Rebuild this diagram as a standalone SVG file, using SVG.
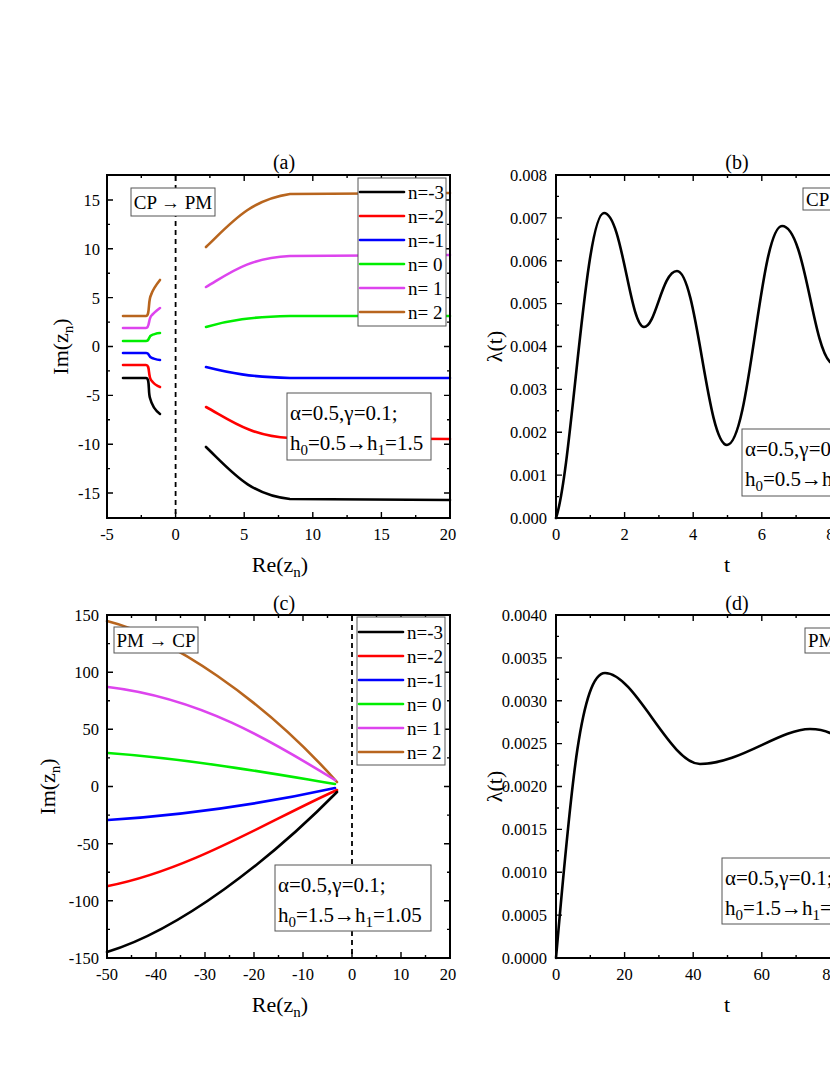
<svg xmlns="http://www.w3.org/2000/svg" width="830" height="1075" viewBox="0 0 830 1075">
<style>
text{font-family:"Liberation Serif","Times New Roman",serif;fill:#000}
.t{font-size:16.5px}
.yl{text-anchor:end}
.xl{text-anchor:middle}
.ttl{font-size:20px;text-anchor:middle}
.ax{font-size:22px;text-anchor:middle}
.fr{fill:none;stroke:#000;stroke-width:2}
.tk{fill:none;stroke:#000;stroke-width:1.4}
.c{fill:none;stroke-width:2.6;stroke-linecap:round}
.box{fill:#fff;stroke:#555;stroke-width:1}
.lg{font-size:19px}
.pb{font-size:21px}
.dash{stroke:#000;stroke-width:1.8;stroke-dasharray:5,4}
</style>
<rect width="830" height="1075" fill="#fff"/>

<g id="panel-a">
<text class="ttl" x="284" y="169">(a)</text>
<line class="dash" x1="175.6" y1="176" x2="175.6" y2="517"/>
<g id="curves-a">
<path class="c" style="stroke:#b8651e" d="M123,316 H146 C150,316 148,300 151,295 C153,289 156,285 160,280"/>
<path class="c" style="stroke:#dd44ee" d="M123,328 H146 C150,328 148,318 152,315 C155,312 157,310 160,308"/>
<path class="c" style="stroke:#00ee00" d="M123,341 H146 C150,341 148,336 152,335 C155,334 157,333 160,333"/>
<path class="c" style="stroke:#0000ff" d="M123,353 H146 C150,353 148,357 152,358 C155,359 157,360 160,360"/>
<path class="c" style="stroke:#ff0000" d="M123,365 H146 C150,365 148,375 151,380 C154,384 157,386 160,387"/>
<path class="c" style="stroke:#000" d="M123,378 H146 C150,378 148,392 150,398 C152,406 156,411 160,414"/>
<path class="c" style="stroke:#b8651e" d="M206,247 C232,222 250,200 290,194 L450,193"/>
<path class="c" style="stroke:#dd44ee" d="M206,287 C230,273 248,258 290,256 L450,255"/>
<path class="c" style="stroke:#00ee00" d="M206,327 C230,320 250,317 290,316 L450,316"/>
<path class="c" style="stroke:#0000ff" d="M206,367 C230,373 250,377 290,378 L450,378"/>
<path class="c" style="stroke:#ff0000" d="M206,407 C230,420 250,436 290,438 L450,439"/>
<path class="c" style="stroke:#000" d="M206,447 C232,472 250,495 290,499 L450,500"/>
</g>
<rect class="fr" x="107" y="175" width="343" height="343"/>
<path class="tk" d="M107,518v-6M175.6,518v-6M244.2,518v-6M312.8,518v-6M381.4,518v-6M141.3,518v-3M209.9,518v-3M278.5,518v-3M347.1,518v-3M415.7,518v-3
M107,175v6M175.6,175v6M244.2,175v6M312.8,175v6M381.4,175v6M141.3,175v3M209.9,175v3M278.5,175v3M347.1,175v3M415.7,175v3
M107,200h6M107,248.8h6M107,297.6h6M107,346.5h6M107,395.4h6M107,444.2h6M107,493h6M107,224.4h3M107,273.2h3M107,322.1h3M107,370.9h3M107,419.8h3M107,468.6h3
M450,200h-6M450,248.8h-6M450,297.6h-6M450,346.5h-6M450,395.4h-6M450,444.2h-6M450,493h-6M450,224.4h-3M450,273.2h-3M450,322.1h-3M450,370.9h-3M450,419.8h-3M450,468.6h-3"/>
<g class="t">
<text class="yl" x="100" y="206">15</text><text class="yl" x="100" y="255">10</text><text class="yl" x="100" y="304">5</text><text class="yl" x="100" y="352">0</text><text class="yl" x="100" y="401">-5</text><text class="yl" x="100" y="450">-10</text><text class="yl" x="100" y="499">-15</text>
<text class="xl" x="107" y="540">-5</text><text class="xl" x="175.6" y="540">0</text><text class="xl" x="244.2" y="540">5</text><text class="xl" x="312.8" y="540">10</text><text class="xl" x="381.4" y="540">15</text><text class="xl" x="448" y="540">20</text>
</g>
<text class="ax" x="280" y="572">Re(z<tspan font-size="15" dy="5">n</tspan><tspan dy="-5">)</tspan></text>
<text class="ax" transform="translate(68,346.5) rotate(-90)">Im(z<tspan font-size="15" dy="5">n</tspan><tspan dy="-5">)</tspan></text>
<g id="label-cp-pm"><rect class="box" x="131" y="188" width="84" height="28"/><text class="lg" x="173" y="209" text-anchor="middle">CP → PM</text></g>
<g id="legend-a">
<rect class="box" x="358" y="178" width="88" height="148"/>
<line class="c" style="stroke:#000" x1="360" y1="192" x2="404" y2="192"/><text class="lg" x="408" y="199">n=-3</text>
<line class="c" style="stroke:#ff0000" x1="360" y1="216" x2="404" y2="216"/><text class="lg" x="408" y="223">n=-2</text>
<line class="c" style="stroke:#0000ff" x1="360" y1="240" x2="404" y2="240"/><text class="lg" x="408" y="247">n=-1</text>
<line class="c" style="stroke:#00ee00" x1="360" y1="264" x2="404" y2="264"/><text class="lg" x="408" y="271">n= 0</text>
<line class="c" style="stroke:#dd44ee" x1="360" y1="288" x2="404" y2="288"/><text class="lg" x="408" y="295">n= 1</text>
<line class="c" style="stroke:#b8651e" x1="360" y1="312" x2="404" y2="312"/><text class="lg" x="408" y="319">n= 2</text>
</g>
<g id="params-a"><rect class="box" x="287" y="393" width="144" height="67"/>
<text class="pb" x="290" y="420">α=0.5,γ=0.1;</text>
<text class="pb" x="290" y="450">h<tspan font-size="15" dy="5">0</tspan><tspan dy="-5">=0.5→h</tspan><tspan font-size="15" dy="5">1</tspan><tspan dy="-5">=1.5</tspan></text></g>
</g>

<g id="panel-b">
<text class="ttl" x="737" y="169">(b)</text>
<path class="c" style="stroke:#000" d="M556,518 C572,470 585,213 604,213 C622,213 630,327 644,327 C656,327 662,271 677,271 C697,271 707,445 727,445 C750,445 760,226 782,226 C805,226 812,345 830,362"/>
<path class="fr" d="M832,175 H556 V518 H832"/>
<path class="tk" d="M624.6,518v-6M693.2,518v-6M761.8,518v-6M590.3,518v-3M658.9,518v-3M727.5,518v-3M796.1,518v-3
M624.6,175v6M693.2,175v6M761.8,175v6M590.3,175v3M658.9,175v3M727.5,175v3M796.1,175v3
M556,475.1h6M556,432.3h6M556,389.4h6M556,346.5h6M556,303.6h6M556,260.8h6M556,217.9h6M556,496.6h3M556,453.7h3M556,410.8h3M556,368h3M556,325.1h3M556,282.2h3M556,239.3h3M556,196.4h3"/>
<g class="t">
<text class="yl" x="547" y="524">0.000</text><text class="yl" x="547" y="481">0.001</text><text class="yl" x="547" y="438">0.002</text><text class="yl" x="547" y="395">0.003</text><text class="yl" x="547" y="352">0.004</text><text class="yl" x="547" y="309">0.005</text><text class="yl" x="547" y="267">0.006</text><text class="yl" x="547" y="224">0.007</text><text class="yl" x="547" y="181">0.008</text>
<text class="xl" x="556" y="540">0</text><text class="xl" x="624.6" y="540">2</text><text class="xl" x="693.2" y="540">4</text><text class="xl" x="761.8" y="540">6</text><text class="xl" x="830.4" y="540">8</text>
</g>
<text class="ax" x="727" y="572">t</text>
<text class="ax" transform="translate(502,346.5) rotate(-90)">λ(t)</text>
<g id="label-cp-b"><rect class="box" x="803" y="188" width="84" height="22"/><text class="lg" x="806" y="206">CP → PM</text></g>
<g id="params-b"><rect class="box" x="742" y="429" width="144" height="67"/>
<text class="pb" x="745" y="456">α=0.5,γ=0.1;</text>
<text class="pb" x="745" y="486">h<tspan font-size="15" dy="5">0</tspan><tspan dy="-5">=0.5→h</tspan><tspan font-size="15" dy="5">1</tspan><tspan dy="-5">=1.5</tspan></text></g>
</g>

<g id="panel-c">
<text class="ttl" x="284" y="610">(c)</text>
<line class="dash" x1="352" y1="616" x2="352" y2="957"/>
<g id="curves-c">
<path class="c" style="stroke:#b8651e" d="M107,621 C170,637 262,698 337,782"/>
<path class="c" style="stroke:#dd44ee" d="M108,687 C200,698 270,740 335,780"/>
<path class="c" style="stroke:#00ee00" d="M108,753 C200,760 280,775 335,784"/>
<path class="c" style="stroke:#0000ff" d="M108,820 C200,814 280,800 335,788"/>
<path class="c" style="stroke:#ff0000" d="M108,886 C190,870 270,820 337,790"/>
<path class="c" style="stroke:#000" d="M107,952 C180,930 270,860 337,792"/>
</g>
<rect class="fr" x="107" y="615" width="343" height="343"/>
<path class="tk" d="M156,958v-6M205,958v-6M254,958v-6M303,958v-6M352,958v-6M401,958v-6M131.5,958v-3M180.5,958v-3M229.5,958v-3M278.5,958v-3M327.5,958v-3M376.5,958v-3M425.5,958v-3
M156,615v6M205,615v6M254,615v6M303,615v6M352,615v6M401,615v6M131.5,615v3M180.5,615v3M229.5,615v3M278.5,615v3M327.5,615v3M376.5,615v3M425.5,615v3
M107,672.2h6M107,729.3h6M107,786.5h6M107,843.7h6M107,900.8h6M107,643.6h3M107,700.8h3M107,757.9h3M107,815.1h3M107,872.2h3M107,929.4h3
M450,672.2h-6M450,729.3h-6M450,786.5h-6M450,843.7h-6M450,900.8h-6M450,643.6h-3M450,700.8h-3M450,757.9h-3M450,815.1h-3M450,872.2h-3M450,929.4h-3"/>
<g class="t">
<text class="yl" x="99" y="621">150</text><text class="yl" x="99" y="678">100</text><text class="yl" x="99" y="735">50</text><text class="yl" x="99" y="792">0</text><text class="yl" x="99" y="850">-50</text><text class="yl" x="99" y="907">-100</text><text class="yl" x="99" y="964">-150</text>
<text class="xl" x="107" y="980">-50</text><text class="xl" x="156" y="980">-40</text><text class="xl" x="205" y="980">-30</text><text class="xl" x="254" y="980">-20</text><text class="xl" x="303" y="980">-10</text><text class="xl" x="352" y="980">0</text><text class="xl" x="401" y="980">10</text><text class="xl" x="448" y="980">20</text>
</g>
<text class="ax" x="280" y="1012">Re(z<tspan font-size="15" dy="5">n</tspan><tspan dy="-5">)</tspan></text>
<text class="ax" transform="translate(55,786.5) rotate(-90)">Im(z<tspan font-size="15" dy="5">n</tspan><tspan dy="-5">)</tspan></text>
<g id="label-pm-cp"><rect class="box" x="114" y="627" width="84" height="26"/><text class="lg" x="156" y="647" text-anchor="middle">PM → CP</text></g>
<g id="legend-c">
<rect class="box" x="357" y="617" width="88" height="148"/>
<line class="c" style="stroke:#000" x1="359" y1="632" x2="403" y2="632"/><text class="lg" x="407" y="639">n=-3</text>
<line class="c" style="stroke:#ff0000" x1="359" y1="656" x2="403" y2="656"/><text class="lg" x="407" y="663">n=-2</text>
<line class="c" style="stroke:#0000ff" x1="359" y1="680" x2="403" y2="680"/><text class="lg" x="407" y="687">n=-1</text>
<line class="c" style="stroke:#00ee00" x1="359" y1="704" x2="403" y2="704"/><text class="lg" x="407" y="711">n= 0</text>
<line class="c" style="stroke:#dd44ee" x1="359" y1="728" x2="403" y2="728"/><text class="lg" x="407" y="735">n= 1</text>
<line class="c" style="stroke:#b8651e" x1="359" y1="752" x2="403" y2="752"/><text class="lg" x="407" y="759">n= 2</text>
</g>
<g id="params-c"><rect class="box" x="275" y="865" width="156" height="66"/>
<text class="pb" x="278" y="892">α=0.5,γ=0.1;</text>
<text class="pb" x="278" y="922">h<tspan font-size="15" dy="5">0</tspan><tspan dy="-5">=1.5→h</tspan><tspan font-size="15" dy="5">1</tspan><tspan dy="-5">=1.05</tspan></text></g>
</g>

<g id="panel-d">
<text class="ttl" x="737" y="610">(d)</text>
<path class="c" style="stroke:#000" d="M556,958 C570,800 580,673 605,673 C635,673 670,764 700,764 C740,764 780,729 810,729 C820,729 826,731 830,733"/>
<path class="fr" d="M832,615 H556 V958 H832"/>
<path class="tk" d="M624.6,958v-6M693.2,958v-6M761.8,958v-6M590.3,958v-3M658.9,958v-3M727.5,958v-3M796.1,958v-3
M624.6,615v6M693.2,615v6M761.8,615v6M590.3,615v3M658.9,615v3M727.5,615v3M796.1,615v3
M556,915.1h6M556,872.3h6M556,829.4h6M556,786.5h6M556,743.6h6M556,700.8h6M556,657.9h6M556,936.6h3M556,893.7h3M556,850.8h3M556,808h3M556,765.1h3M556,722.2h3M556,679.3h3M556,636.4h3"/>
<g class="t">
<text class="yl" x="547" y="964">0.0000</text><text class="yl" x="547" y="921">0.0005</text><text class="yl" x="547" y="878">0.0010</text><text class="yl" x="547" y="835">0.0015</text><text class="yl" x="547" y="792">0.0020</text><text class="yl" x="547" y="749">0.0025</text><text class="yl" x="547" y="707">0.0030</text><text class="yl" x="547" y="664">0.0035</text><text class="yl" x="547" y="621">0.0040</text>
<text class="xl" x="556" y="980">0</text><text class="xl" x="624.6" y="980">20</text><text class="xl" x="693.2" y="980">40</text><text class="xl" x="761.8" y="980">60</text><text class="xl" x="830.4" y="980">80</text>
</g>
<text class="ax" x="727" y="1012">t</text>
<text class="ax" transform="translate(502,786.5) rotate(-90)">λ(t)</text>
<g id="label-pm-d"><rect class="box" x="805" y="628" width="84" height="25"/><text class="lg" x="808" y="647">PM → CP</text></g>
<g id="params-d"><rect class="box" x="722" y="858" width="160" height="66"/>
<text class="pb" x="725" y="885">α=0.5,γ=0.1;</text>
<text class="pb" x="725" y="915">h<tspan font-size="15" dy="5">0</tspan><tspan dy="-5">=1.5→h</tspan><tspan font-size="15" dy="5">1</tspan><tspan dy="-5">=1.05</tspan></text></g>
</g>
</svg>
